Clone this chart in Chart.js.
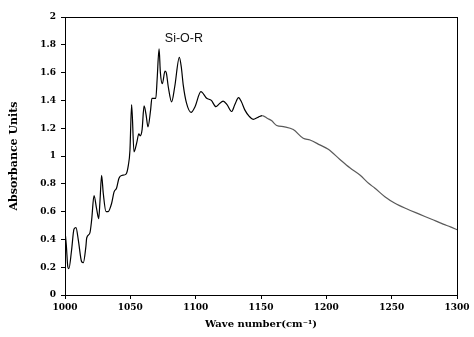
<!DOCTYPE html>
<html>
<head>
<meta charset="utf-8">
<script src="https://cdn.jsdelivr.net/npm/chart.js@4"></script>
<style>
  body { margin: 0; background: #fff; }
  canvas { display: block; }
</style>
</head>
<body>
<canvas id="spectrum-chart" width="474" height="337"></canvas>
<script>
// IR spectrum, wavenumber (cm-1) vs absorbance
var wavenumber = [
    1000, 1001, 1002.2, 1003, 1005, 1006.9, 1008.4, 1010.2, 1012.7, 1014,
    1016, 1016.6, 1019, 1020.4, 1022.2, 1024.2, 1025.8, 1026.8, 1028, 1029.3,
    1031.4, 1033, 1035.7, 1037.5, 1039.5, 1041.3, 1043.4, 1046.7, 1048.5, 1049.7,
    1051, 1052.8, 1055, 1056.5, 1057.5, 1059, 1060.5, 1062, 1063.5, 1065.5,
    1066.5, 1069.5, 1070.5, 1072, 1073, 1074.5, 1076.5, 1077.5, 1079, 1081.6,
    1084, 1087.5, 1089, 1090.5, 1093, 1096.5, 1099.5, 1104, 1108.4, 1112,
    1115.5, 1118, 1121, 1124, 1127.5, 1130, 1132.8, 1135, 1137.7, 1141,
    1144, 1148, 1151, 1155, 1158, 1162, 1168, 1174.7, 1182.3, 1187.5,
    1195, 1201.5, 1210.4, 1218, 1225.7, 1232.8, 1237, 1244.8, 1252.5, 1261.4,
    1271.6, 1280.6, 1289.4, 1295, 1300
];
var absorbance = [
    0.46, 0.36, 0.20, 0.19, 0.32, 0.475, 0.485, 0.395, 0.24, 0.232,
    0.35, 0.41, 0.445, 0.54, 0.715, 0.62, 0.55, 0.68, 0.86, 0.73,
    0.60, 0.60, 0.66, 0.74, 0.77, 0.84, 0.86, 0.87, 0.935, 1.04,
    1.37, 1.03, 1.10, 1.16, 1.145, 1.19, 1.36, 1.30, 1.21, 1.33,
    1.415, 1.415, 1.55, 1.77, 1.60, 1.52, 1.61, 1.60, 1.50, 1.39,
    1.50, 1.71, 1.64, 1.51, 1.38, 1.314, 1.355, 1.463, 1.415, 1.40,
    1.355, 1.375, 1.395, 1.37, 1.32, 1.37, 1.42, 1.39, 1.33, 1.285,
    1.264, 1.28, 1.29, 1.27, 1.255, 1.22, 1.21, 1.19, 1.127, 1.115,
    1.08, 1.048, 0.975, 0.915, 0.863, 0.80, 0.77, 0.707, 0.66, 0.62,
    0.58, 0.545, 0.51, 0.49, 0.47
];

// band label
var peakLabel = 'Si-O-R';
var peakLabelAt = [1091, 1.845];

var tickFont = { family: '"DejaVu Serif"', size: 9, weight: 'bold' };
var titleFont = { family: '"DejaVu Serif"', size: 10, weight: 'bold' };
var yTitleFont = { family: '"DejaVu Serif"', size: 11, weight: 'bold' };

var frame = {
    id: 'frame',
    afterDatasetsDraw: function(chart) {
        var ctx = chart.ctx, a = chart.chartArea;
        ctx.save();
        ctx.strokeStyle = '#000';
        ctx.lineWidth = 1;
        ctx.strokeRect(Math.round(a.left) + 0.5, Math.round(a.top) + 0.5,
            Math.round(a.right - a.left), Math.round(a.bottom - a.top));
        ctx.fillStyle = '#111';
        ctx.font = '12.5px "Liberation Sans"';
        ctx.textAlign = 'center';
        ctx.textBaseline = 'middle';
        ctx.fillText(peakLabel,
            chart.scales.x.getPixelForValue(peakLabelAt[0]),
            chart.scales.y.getPixelForValue(peakLabelAt[1]));
        ctx.restore();
    }
};

var spectrumConfig = {
    type: 'line',
    data: {
        datasets: [{
            data: wavenumber.map(function(x, i) { return { x: x, y: absorbance[i] }; }),
            borderColor: '#000',
            borderWidth: 1.2,
            pointRadius: 0,
            fill: false,
            cubicInterpolationMode: 'monotone',
            segment: {
                borderColor: function(c) { return c.p0.parsed.x >= 1150 ? '#5a5a5a' : '#000'; }
            }
        }]
    },
    options: {
        responsive: false,
        animation: false,
        layout: { padding: { left: 0, top: 17, right: 17, bottom: 0 } },
        plugins: { legend: { display: false }, tooltip: { enabled: false } },
        scales: {
            x: {
                type: 'linear',
                min: 1000,
                max: 1300,
                afterFit: function(s) { s.height = 42; },
                ticks: {
                    stepSize: 50, color: '#000', font: tickFont, padding: 3, maxRotation: 0,
                    callback: function(v) { return String(v); }
                },
                grid: { drawOnChartArea: false, drawTicks: true, tickLength: 4, color: '#000' },
                border: { display: true, color: '#000' },
                title: { display: true, text: 'Wave number(cm⁻¹)', color: '#000', font: titleFont, padding: { top: 0, bottom: 7 } }
            },
            y: {
                min: 0,
                max: 2,
                afterFit: function(s) { s.width = 65; },
                ticks: {
                    stepSize: 0.2, color: '#000', font: tickFont, padding: 5,
                    callback: function(v) { return String(Math.round(v * 10) / 10); }
                },
                grid: { drawOnChartArea: false, drawTicks: true, tickLength: 4, color: '#000' },
                border: { display: true, color: '#000' },
                title: { display: true, text: 'Absorbance Units', color: '#000', font: yTitleFont, padding: { top: 8, bottom: 0 } }
            }
        }
    },
    plugins: [frame]
};

var ctx = document.getElementById('spectrum-chart').getContext('2d');
var spectrumChart = new Chart(ctx, spectrumConfig);
</script>
</body>
</html>
